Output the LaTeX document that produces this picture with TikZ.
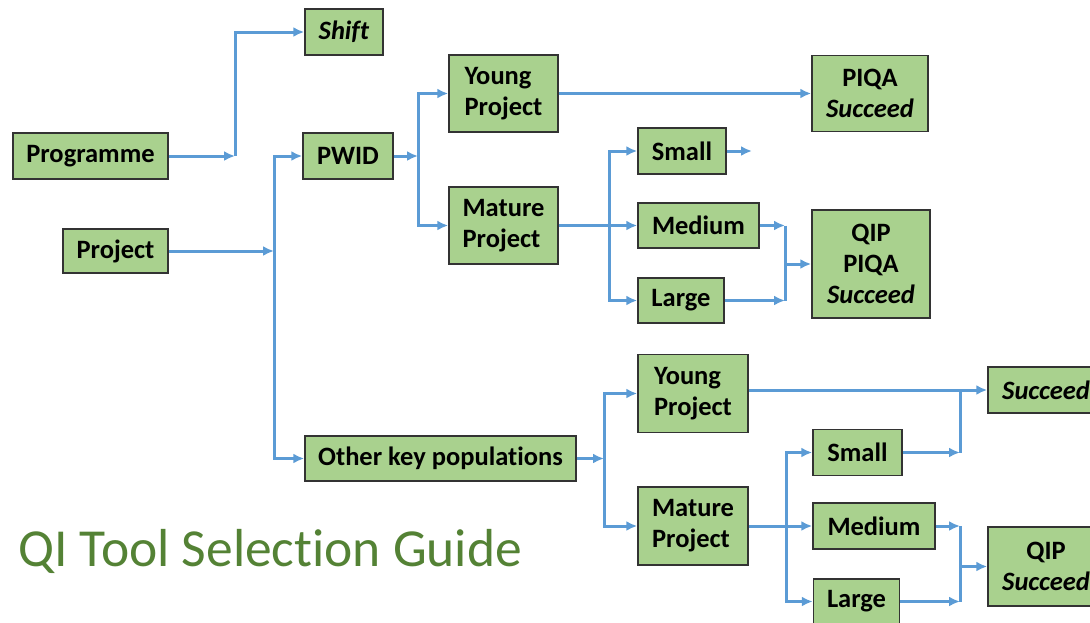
\documentclass[tikz,border=0pt]{standalone}
\usepackage{fontspec}
\setmainfont[Ligatures=NoCommon]{Carlito}
\usetikzlibrary{arrows.meta,positioning}

\definecolor{boxgreen}{HTML}{A9D18E}
\definecolor{boxborder}{HTML}{333333}
\definecolor{lineblue}{HTML}{5B9BD5}
\definecolor{titlegreen}{HTML}{548235}

\begin{document}
\begin{tikzpicture}[x=1pt,y=-1pt,>={Latex[length=11pt,width=10pt]},
        box/.style={draw=boxborder,fill=boxgreen,line width=1.5pt,inner sep=0pt,
          font=\fontsize{26.5}{31}\selectfont\bfseries,align=center},
        link/.style={draw=lineblue,line width=3pt}]

  \useasboundingbox (0,0) rectangle (1090,622);
  \clip (0,0) rectangle (1090,622);

  \node[box,minimum width=78pt,minimum height=46pt] (shift) at (344,32) {\textit{Shift}};
  \node[box,minimum width=155pt,minimum height=46pt] (prog) at (90.5,156) {Programme};
  \node[box,minimum width=105pt,minimum height=44pt] (proj) at (115.5,251) {Project};
  \node[box,minimum width=90pt,minimum height=46pt] (pwid) at (348,156) {PWID};
  \node[box,align=left,minimum width=109pt,minimum height=77pt] (youngA) at (503.5,93.5) {Young\\Project};
  \node[box,align=left,minimum width=109pt,minimum height=77pt] (matureA) at (503.5,225.5) {Mature\\Project};
  \node[box,minimum width=116pt,minimum height=76pt] (piqaA) at (870,93.5) {PIQA\\\textit{Succeed}};
  \node[box,minimum width=88pt,minimum height=46pt] (smallA) at (682,151) {Small};
  \node[box,minimum width=121pt,minimum height=45pt] (mediumA) at (698.5,225.5) {Medium};
  \node[box,minimum width=86pt,minimum height=45pt] (largeA) at (681,300.5) {Large};
  \node[box,minimum width=118pt,minimum height=108pt] (qipA) at (871,264) {QIP\\PIQA\\\textit{Succeed}};

  \node[box,minimum width=271pt,minimum height=45pt] (other) at (440.5,458.5) {Other key populations};
  \node[box,align=left,minimum width=110pt,minimum height=78pt] (youngB) at (693,393.5) {Young\\Project};
  \node[box,align=left,minimum width=110pt,minimum height=78pt] (matureB) at (693,526) {Mature\\Project};
  \node[box,minimum width=89pt,minimum height=46pt] (smallB) at (857.5,452.5) {Small};
  \node[box,minimum width=122pt,minimum height=46pt] (mediumB) at (874,526) {Medium};
  \node[box,minimum width=86pt,minimum height=45pt] (largeB) at (856.5,601.5) {Large};
  \node[box,minimum width=116pt,minimum height=46pt] (succB) at (1046,390) {\textit{Succeed}};
  \node[box,minimum width=116pt,minimum height=79pt] (qipB) at (1046,566.5) {QIP\\\textit{Succeed}};

  \node[font=\fontsize{53.5}{60}\selectfont,text=titlegreen,anchor=base west,inner sep=0pt]
        (title) at (18,566) {QI Tool Selection Guide};

  \coordinate (jS) at (235,156);
  \coordinate (jP) at (274,251);
  \coordinate (jW) at (418,156);
  \coordinate (jM) at (609,225.5);
  \coordinate (endA) at (752,151);
  \coordinate (jQ) at (785,264);
  \coordinate (jO) at (604,458.5);
  \coordinate (jN) at (786,526);
  \coordinate (jU) at (960,390);
  \coordinate (jV) at (960,566.5);

  \draw[link,->] (prog) -- (jS);
  \draw[link,->] (jS) |- (shift);
  \draw[link,->] (proj) -- (jP);
  \draw[link,->] (jP) |- (pwid);
  \draw[link,->] (jP) |- (other);
  \draw[link,->] (pwid) -- (jW);
  \draw[link,->] (jW) |- (youngA);
  \draw[link,->] (jW) |- (matureA);
  \draw[link,->] (youngA) -- (piqaA);
  \draw[link,->] (matureA) -- (mediumA);
  \draw[link,->] (jM) |- (smallA);
  \draw[link,->] (jM) |- (largeA);
  \draw[link,->] (smallA) -- (endA);
  \draw[link,->] (mediumA) -- (mediumA -| jQ);
  \draw[link,->] (largeA) -- (largeA -| jQ);
  \draw[link] (mediumA -| jQ) -- (largeA -| jQ);
  \draw[link,->] (jQ) -- (qipA);

  \draw[link,->] (other) -- (jO);
  \draw[link,->] (jO) |- (youngB);
  \draw[link,->] (jO) |- (matureB);
  \draw[link,->] (youngB.east |- succB) -- (succB);
  \draw[link,->] (smallB) -- (smallB -| jU);
  \draw[link] (smallB -| jU) -- (jU);
  \draw[link,->] (matureB) -- (mediumB);
  \draw[link,->] (jN) |- (smallB);
  \draw[link,->] (jN) |- (largeB);
  \draw[link,->] (mediumB) -- (mediumB -| jV);
  \draw[link,->] (largeB) -- (largeB -| jV);
  \draw[link] (mediumB -| jV) -- (largeB -| jV);
  \draw[link,->] (jV) -- (qipB);

\end{tikzpicture}
\end{document}
